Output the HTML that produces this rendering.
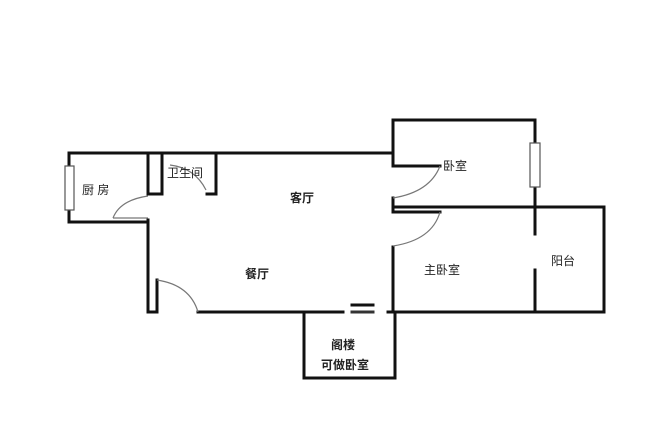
<!DOCTYPE html>
<html><head><meta charset="utf-8"><style>
html,body{margin:0;padding:0;background:#fff;}
svg{display:block;}
text{font-family:"Liberation Sans","Noto Sans CJK SC",sans-serif;font-size:12px;fill:#222;}
</style></head><body>
<svg width="671" height="435" viewBox="0 0 671 435" xmlns="http://www.w3.org/2000/svg">
<g stroke="#111" stroke-width="3" fill="none" stroke-linecap="square">
<!-- top wall -->
<line x1="69" y1="153" x2="393" y2="153"/>
<!-- kitchen -->
<line x1="69" y1="153" x2="69" y2="222"/>
<line x1="69" y1="222" x2="148" y2="222"/>
<line x1="148" y1="153" x2="148" y2="194"/>
<line x1="148" y1="220" x2="148" y2="312"/>
<!-- bathroom -->
<line x1="162" y1="153" x2="162" y2="194"/>
<line x1="148" y1="194" x2="162" y2="194"/>
<line x1="216" y1="153" x2="216" y2="194"/>
<line x1="207" y1="194" x2="216" y2="194"/>
<!-- bottom -->
<line x1="148" y1="312" x2="157" y2="312"/>
<line x1="157" y1="280" x2="157" y2="312"/>
<line x1="198" y1="312" x2="343" y2="312"/>
<line x1="388" y1="312" x2="604" y2="312"/>
<!-- bedroom -->
<line x1="393" y1="120" x2="535" y2="120"/>
<line x1="393" y1="120" x2="393" y2="166"/>
<line x1="393" y1="166" x2="440" y2="166"/>
<line x1="393" y1="198" x2="393" y2="212"/>
<line x1="393" y1="207" x2="604" y2="207"/>
<line x1="393" y1="212" x2="440" y2="212"/>
<line x1="393" y1="247" x2="393" y2="312"/>
<line x1="604" y1="207" x2="604" y2="312"/>
<line x1="535" y1="120" x2="535" y2="234"/>
<line x1="535" y1="270" x2="535" y2="312"/>
<!-- attic -->
<line x1="304" y1="312" x2="304" y2="378"/>
<line x1="304" y1="378" x2="395" y2="378"/>
<line x1="395" y1="312" x2="395" y2="378"/>
<line x1="352" y1="305" x2="373" y2="305"/>
<line x1="352" y1="312" x2="373" y2="312" stroke="#333"/>
</g>
<!-- windows -->
<rect x="65" y="166" width="9" height="44" fill="#fff" stroke="#555" stroke-width="1.2"/>
<rect x="530" y="143" width="10" height="44" fill="#fff" stroke="#555" stroke-width="1.2"/>
<!-- door arcs -->
<g stroke="#777" stroke-width="1.2" fill="none">
<path d="M113 218 Q120 200 148 196"/>
<line x1="113" y1="218" x2="148" y2="218"/>
<path d="M170 165 Q195 168 206 190"/>
<path d="M157 280 Q190 285 198 312"/>
<path d="M393 198 Q430 192 440 166"/>
<path d="M393 246 Q432 240 440 212"/>
</g>
<text x="82" y="194">厨 房</text>
<text x="167" y="177">卫生间</text>
<text x="290" y="202" font-weight="bold">客厅</text>
<text x="443" y="170">卧室</text>
<text x="245" y="278" font-weight="bold">餐厅</text>
<text x="424" y="274">主卧室</text>
<text x="551" y="265">阳台</text>
<text x="331" y="349" font-weight="bold">阁楼</text>
<text x="321" y="369" font-weight="bold">可做卧室</text>
</svg>
</body></html>
